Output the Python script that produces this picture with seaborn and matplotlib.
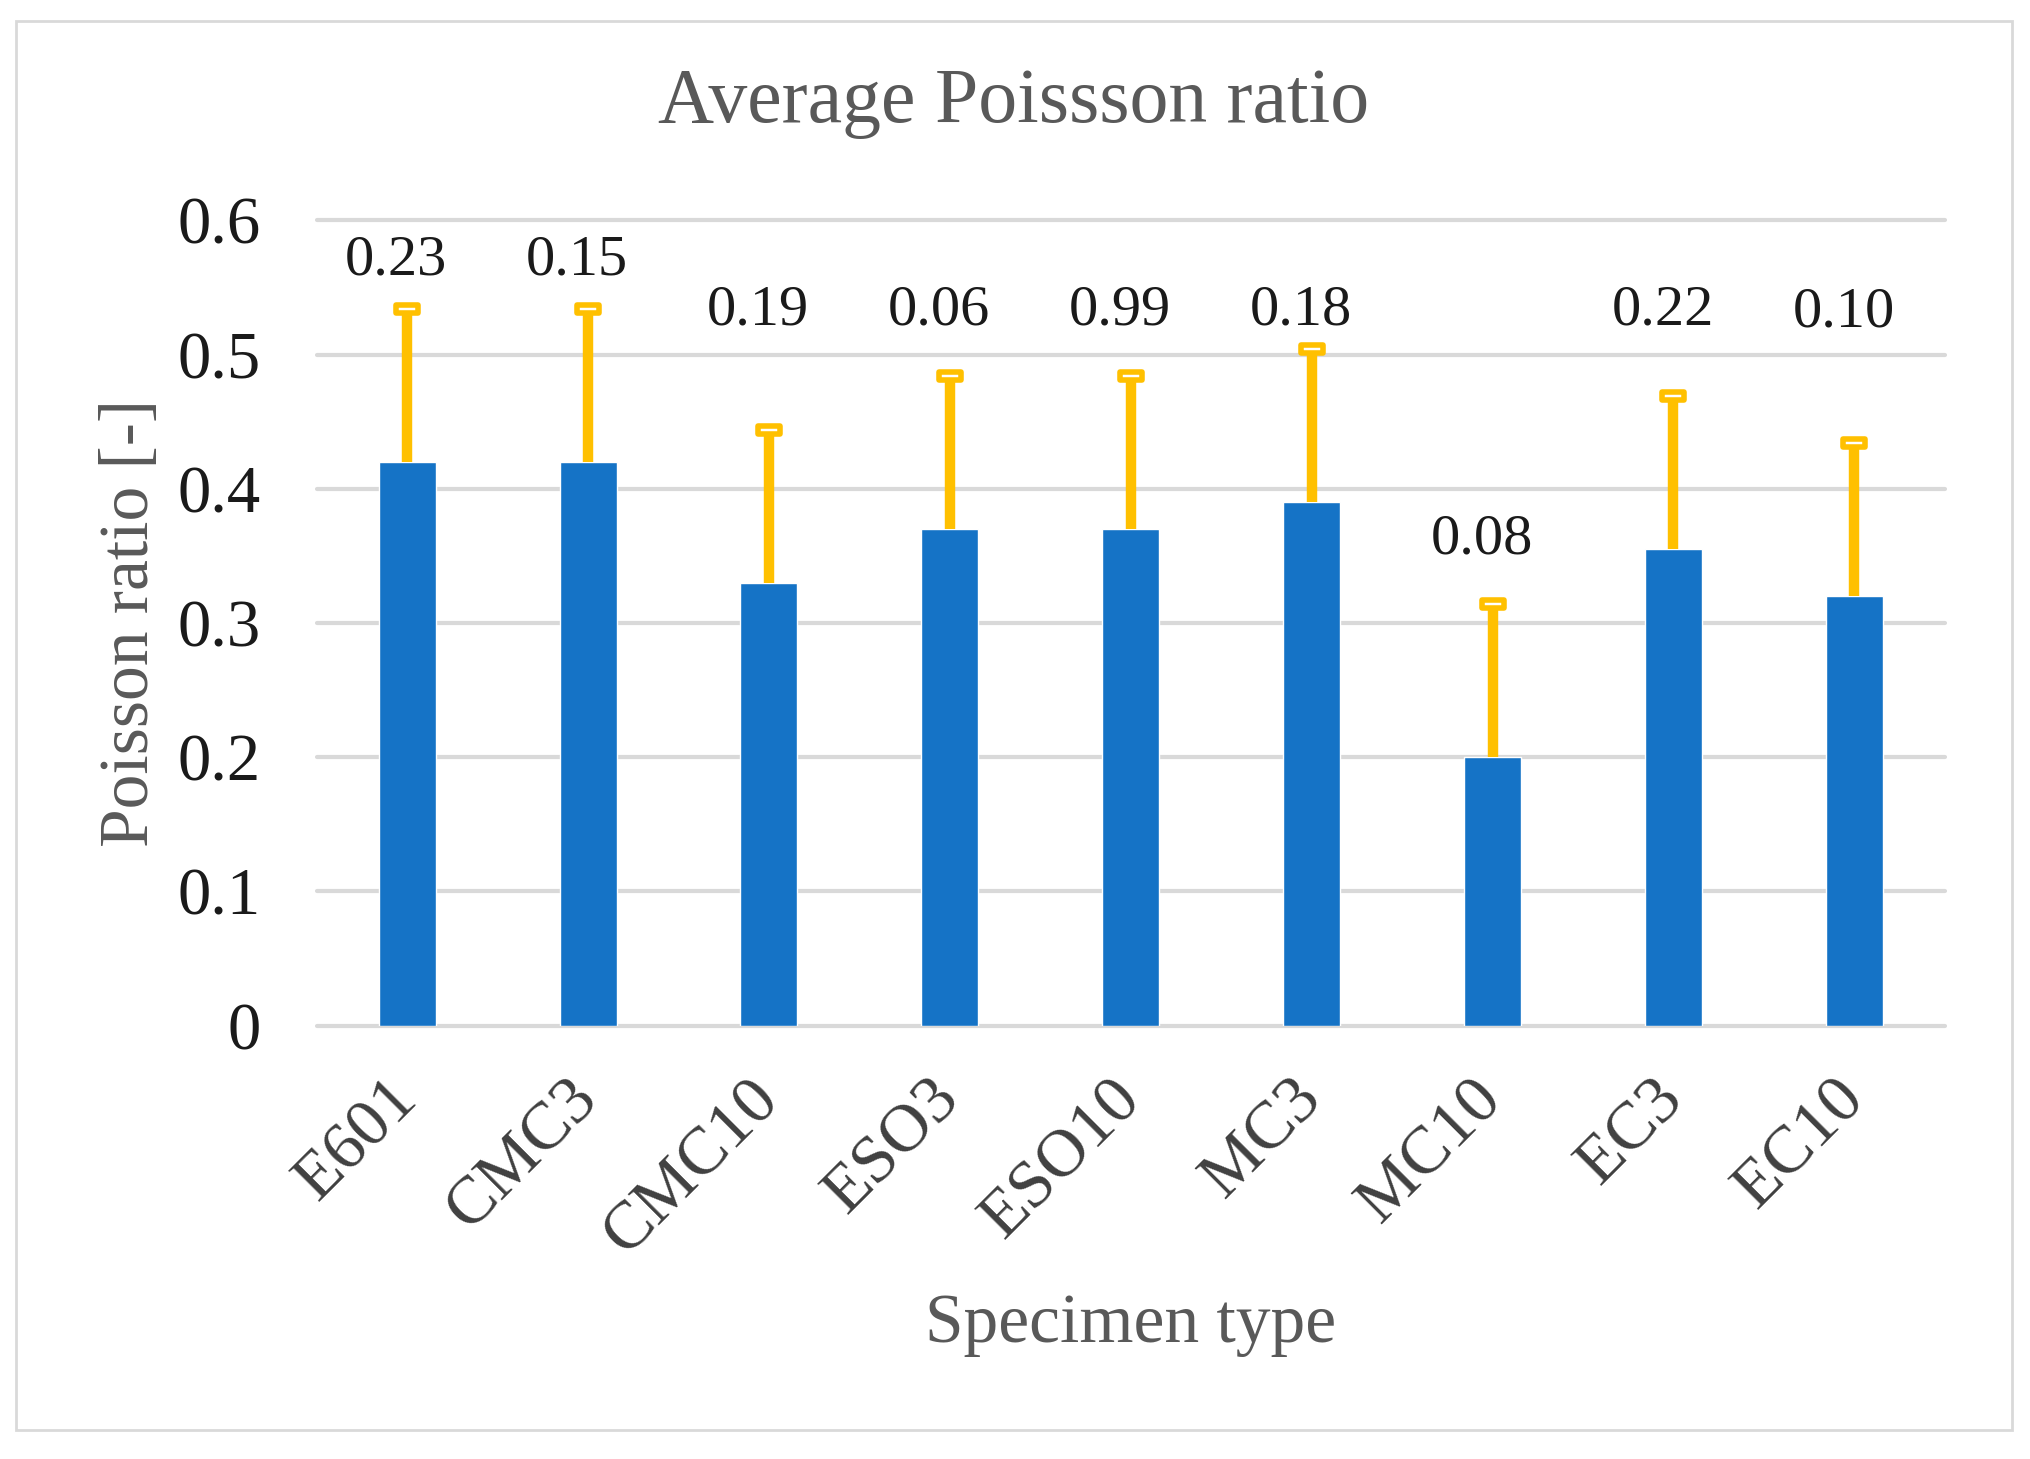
import matplotlib
matplotlib.use("Agg")
import matplotlib.pyplot as plt
import matplotlib.patches as mpatches
from matplotlib.path import Path
import seaborn as sns
import pandas as pd

specimens = ["E601", "CMC3", "CMC10", "ESO3", "ESO10", "MC3", "MC10", "EC3", "EC10"]
mean_ratio = [0.42, 0.42, 0.33, 0.37, 0.37, 0.39, 0.20, 0.355, 0.32]
upper_err = [0.114, 0.114, 0.114, 0.114, 0.114, 0.114, 0.114, 0.114, 0.114]
value_labels = ["0.23", "0.15", "0.19", "0.06", "0.99", "0.18", "0.08", "0.22", "0.10"]
label_y = [0.570, 0.570, 0.533, 0.533, 0.533, 0.533, 0.362, 0.533, 0.531]

df = pd.DataFrame({"specimen": specimens, "ratio": mean_ratio})

sns.set_style("white")
plt.rcParams["font.family"] = ["Liberation Serif", "DejaVu Serif"]

bar_color = "#1573C6"
err_color = "#FFC000"
grid_color = "#D9D9D9"
grey_text = "#595959"

fig = plt.figure(figsize=(20.3, 14.59), dpi=100)
ax = fig.add_axes([0.156, 0.297, 0.802, 0.552])

sns.barplot(data=df, x="specimen", y="ratio", color=bar_color, width=0.315,
            saturation=1, ax=ax, zorder=3)

xs = list(range(len(specimens)))
tops = [m + e for m, e in zip(mean_ratio, upper_err)]
ax.errorbar(xs, mean_ratio, yerr=[[0] * len(xs), upper_err], fmt="none",
            ecolor=err_color, elinewidth=7.5, capsize=0, zorder=4)

cap = Path([(-1, -0.4), (1, -0.4), (1, 0.4), (-1, 0.4), (-1, -0.4)],
           [Path.MOVETO, Path.LINETO, Path.LINETO, Path.LINETO, Path.CLOSEPOLY])
ax.plot(xs, tops, linestyle="none", marker=cap, markersize=16,
        markerfacecolor="white", markeredgecolor=err_color, markeredgewidth=4,
        zorder=5)

for x, y, t in zip(xs, label_y, value_labels):
    ax.text(x - 0.06, y, t, ha="center", va="center", fontsize=42, color="#1a1a1a")

ax.set_ylim(0, 0.6)
ax.set_xlim(-0.5, len(specimens) - 0.5)
ax.set_yticks([0, 0.1, 0.2, 0.3, 0.4, 0.5, 0.6])
ax.set_yticklabels(["0", "0.1", "0.2", "0.3", "0.4", "0.5", "0.6"])
ax.yaxis.grid(True, color=grid_color, linewidth=3, zorder=0)
for line in ax.get_ygridlines():
    line.set_clip_on(False)
ax.set_axisbelow(True)
sns.despine(ax=ax, left=True, bottom=True)

ax.tick_params(axis="y", length=0, pad=40, labelsize=48, labelcolor="#1a1a1a")
ax.tick_params(axis="x", length=0, pad=46, labelsize=49, labelcolor="#404040")
for lab in ax.get_xticklabels():
    lab.set_rotation(45)
    lab.set_ha("right")
    lab.set_va("center")
    lab.set_rotation_mode("anchor")

ax.set_xlabel("Specimen type", fontsize=50, color=grey_text)
ax.set_ylabel("Poisson ratio [-]", fontsize=50, color=grey_text)
ax.xaxis.set_label_coords(0.5, -0.372)
ax.xaxis.label.set_va("center")
ax.yaxis.set_label_coords(-0.114, 0.5)
ax.yaxis.label.set_va("center")

fig.suptitle("Average Poissson ratio", x=0.4995, y=0.929, va="center",
             fontsize=56, color=grey_text)

border = mpatches.Rectangle((0.0079, 0.0199), 0.983, 0.966, transform=fig.transFigure,
                            fill=False, edgecolor=grid_color, linewidth=2)
fig.patches.append(border)

fig.savefig("out.png", dpi=100, facecolor="white")
